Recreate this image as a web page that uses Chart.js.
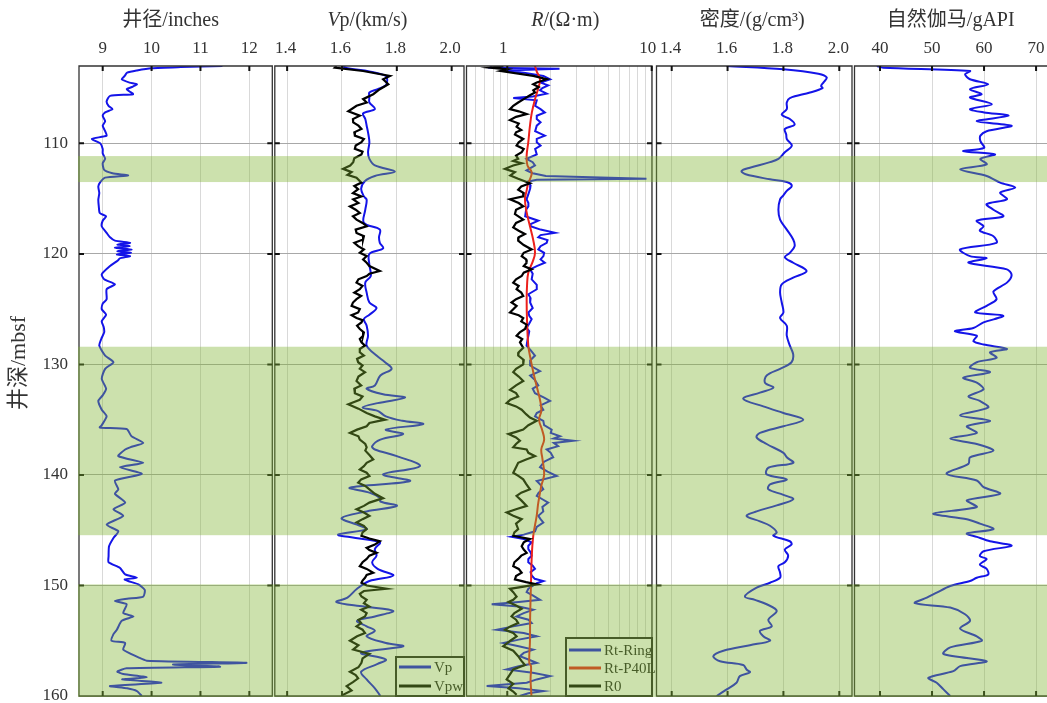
<!DOCTYPE html>
<html>
<head>
<meta charset="utf-8">
<script src="https://cdn.jsdelivr.net/npm/chart.js@4.4.1/dist/chart.umd.min.js"></script>
<style>
  body { margin: 0; background: #fff; }
  #wrap { position: relative; width: 1047px; height: 703px; }
  #wrap canvas { position: absolute; left: 0; top: 0; }
</style>
</head>
<body>
<div id="wrap">
  <canvas id="cal" width="1047" height="703"></canvas>
  <canvas id="vp" width="1047" height="703"></canvas>
  <canvas id="res" width="1047" height="703"></canvas>
  <canvas id="den" width="1047" height="703"></canvas>
  <canvas id="gr" width="1047" height="703"></canvas>
</div>
<script>
// depth ticks (mbsf) and the shaded intervals
const depthTicks = [110, 120, 130, 140, 150, 160];
const bandTop = [111.15, 128.4, 149.9];
const bandBottom = [113.5, 145.45, 160];

// x tick labels of each track
const calTicks = [9, 10, 11, 12];
const vpTicks = [1.4, 1.6, 1.8, 2.0];
const resTicks = [1, 10];
const resGrid = [0.6, 0.7, 0.8, 0.9, 1, 2, 3, 4, 5, 6, 7, 8, 9, 10];
const denTicks = [1.4, 1.6, 1.8, 2.0];
const grTicks = [40, 50, 60, 70];

// caliper (inches)
const calDepth = [
  103.0,103.1,103.2,103.4,103.6,103.9,104.2,104.5,104.65,104.9,
  105.1,105.3,105.55,105.7,106.2,106.6,106.9,107.2,107.5,108.0,
  108.4,108.9,109.3,109.6,110.0,110.5,110.9,111.4,111.8,112.4,
  112.7,112.9,113.1,113.5,113.9,114.5,115.1,115.7,116.3,116.6,
  117.0,117.5,118.1,118.5,118.8,119.0,119.15,119.3,119.45,119.6,
  119.75,119.9,120.05,120.2,120.4,120.6,121.1,121.85,122.3,122.75,
  123.2,124.1,124.5,125.0,125.5,126.1,126.6,127.1,127.7,128.3,
  129.2,129.8,130.4,131.3,132.2,132.8,133.3,134.1,134.7,135.5,
  135.7,135.85,136.5,137.1,137.5,137.7,138.3,138.9,139.3,139.9,
  140.5,141.3,141.7,142.5,143.1,143.7,144.5,145.1,145.7,146.45,
  147.35,147.9,148.4,149.0,149.3,149.45,149.6,149.9,150.4,151.0,
  151.2,151.4,151.7,152.5,152.8,153.2,154.0,154.4,155.0,155.2,
  155.8,156.5,156.8,157.0,157.15,157.35,157.5,157.8,158.0,158.3,
  158.5,158.8,159.1,159.3,159.55,160.0];
const calValue = [
  11.45,10.6,10.0,9.7,9.5,9.45,9.39,9.55,9.70,9.6,
  9.49,9.55,9.62,9.15,9.08,9.12,9.2,9.05,9.0,9.05,
  9.0,9.05,9.08,8.78,8.95,9.0,9.0,9.05,9.0,9.03,
  9.2,9.52,9.05,8.95,8.91,8.93,8.91,8.92,8.94,9.07,
  9.0,8.98,9.08,9.15,9.25,9.56,9.3,9.55,9.25,9.59,
  9.3,9.58,9.29,9.56,9.35,9.31,9.15,8.98,9.03,9.25,
  9.08,9.08,9.0,8.98,9.07,8.98,9.02,9.03,8.97,8.93,
  9.05,9.22,9.05,8.98,9.07,9.0,8.91,8.98,9.08,8.98,
  8.94,9.49,9.59,9.83,9.56,9.46,9.32,9.83,9.35,9.8,
  9.25,9.32,9.25,9.46,9.22,9.42,9.08,9.32,9.22,9.13,
  9.12,9.12,9.35,9.46,9.7,9.45,9.52,9.73,9.86,9.83,
  9.5,9.25,9.49,9.42,9.63,9.39,9.29,9.22,9.18,9.46,
  9.42,9.73,9.9,11.94,10.44,11.4,9.49,9.3,9.42,9.9,
  9.4,10.2,9.15,9.5,9.7,9.8];

// Vp (km/s)
const vpDepth = [
  103.0,103.2,103.5,103.9,104.3,104.75,105.1,105.4,105.8,106.3,
  106.9,107.3,107.8,108.4,109.0,109.9,110.8,111.4,112.0,112.55,
  112.95,113.4,114.1,114.8,115.1,116.0,117.2,117.8,118.5,119.0,
  119.5,120.0,121.0,122.0,122.6,123.5,124.4,124.9,125.5,125.9,
  126.5,127.4,128.3,129.2,129.8,130.4,131.0,131.9,132.2,132.7,
  133.0,133.5,133.9,134.2,134.7,135.1,135.4,135.9,136.3,136.8,
  137.4,137.7,138.3,139.2,139.95,140.55,141.15,141.6,142.1,142.4,
  142.8,143.3,143.9,144.5,144.9,145.4,145.7,146.1,146.7,147.3,
  147.9,148.5,149.1,149.6,150.3,151.1,151.5,151.9,152.3,152.8,
  153.2,153.7,154.1,154.6,155.2,155.5,156.1,156.7,157.1,157.8,
  158.5,159.3,160.0];
const vpValue = [
  1.60,1.62,1.70,1.76,1.765,1.76,1.73,1.70,1.70,1.70,
  1.72,1.677,1.685,1.69,1.695,1.70,1.695,1.70,1.72,1.793,
  1.72,1.684,1.67,1.68,1.69,1.685,1.68,1.738,1.735,1.738,
  1.75,1.70,1.70,1.705,1.685,1.69,1.70,1.726,1.70,1.68,
  1.69,1.695,1.69,1.726,1.757,1.781,1.74,1.72,1.69,1.75,
  1.83,1.73,1.675,1.73,1.76,1.82,1.896,1.76,1.823,1.74,
  1.71,1.72,1.80,1.884,1.75,1.848,1.629,1.70,1.74,1.74,
  1.80,1.69,1.599,1.655,1.69,1.586,1.65,1.738,1.72,1.726,
  1.71,1.73,1.787,1.70,1.655,1.62,1.58,1.68,1.787,1.72,
  1.655,1.69,1.72,1.69,1.76,1.823,1.67,1.76,1.73,1.67,
  1.69,1.72,1.74];

// Vpw (km/s)
const vpwDepth = [
  103.0,103.15,103.45,103.9,104.2,104.65,105.1,105.55,106.0,106.3,
  106.6,107.1,107.5,107.8,108.1,108.4,108.7,109.0,109.3,109.6,
  109.9,110.2,110.5,110.75,111.0,111.35,111.7,112.0,112.3,112.6,
  112.85,113.1,113.55,113.85,114.15,114.5,114.8,115.06,115.4,115.7,
  116.0,116.3,116.6,116.9,117.2,117.5,117.8,118.1,118.4,118.7,
  119.0,119.3,119.6,119.9,120.2,120.5,120.8,121.1,121.55,121.8,
  122.0,122.3,122.6,122.9,123.2,123.5,123.8,124.1,124.4,124.7,
  125.0,125.3,125.55,125.8,126.0,126.2,126.5,126.8,127.1,127.4,
  127.7,128.0,128.3,128.6,128.9,129.2,129.5,129.8,130.1,130.4,
  130.7,131.1,131.5,131.9,132.2,132.6,132.9,133.2,133.6,134.0,
  134.4,134.7,135.0,135.3,135.6,135.9,136.2,136.5,136.8,137.2,
  137.5,137.8,138.2,138.6,138.9,139.2,139.5,139.8,140.1,140.4,
  140.7,141.0,141.3,141.7,142.1,142.5,142.8,143.1,143.4,143.7,
  144.0,144.3,144.6,144.9,145.2,145.5,145.75,146.0,146.3,146.6,
  146.8,147.05,147.3,147.6,147.9,148.25,148.5,148.85,149.05,149.3,
  149.55,149.75,150.0,150.3,150.5,150.75,151.0,151.3,151.6,151.9,
  152.2,152.5,152.8,153.1,153.4,153.7,154.0,154.3,154.6,155.0,
  155.4,155.8,156.2,156.6,157.0,157.4,157.8,158.1,158.4,158.75,
  159.1,159.5,159.9,160.0];
const vpwValue = [
  1.58,1.574,1.677,1.775,1.75,1.769,1.738,1.714,1.677,1.69,
  1.653,1.623,1.665,1.64,1.641,1.66,1.671,1.645,1.647,1.68,
  1.671,1.65,1.647,1.675,1.671,1.645,1.641,1.63,1.604,1.635,
  1.62,1.653,1.671,1.645,1.659,1.64,1.671,1.641,1.66,1.629,
  1.65,1.665,1.64,1.653,1.675,1.69,1.65,1.653,1.68,1.677,
  1.645,1.659,1.68,1.665,1.69,1.677,1.69,1.70,1.738,1.70,
  1.69,1.66,1.653,1.675,1.665,1.645,1.67,1.653,1.64,1.635,
  1.665,1.659,1.635,1.653,1.675,1.671,1.655,1.665,1.68,1.677,
  1.665,1.671,1.684,1.665,1.665,1.68,1.655,1.659,1.675,1.665,
  1.684,1.66,1.653,1.67,1.645,1.647,1.675,1.665,1.623,1.66,
  1.69,1.72,1.757,1.70,1.69,1.655,1.629,1.66,1.665,1.685,
  1.69,1.685,1.70,1.714,1.69,1.68,1.665,1.69,1.70,1.67,
  1.659,1.685,1.70,1.72,1.75,1.70,1.68,1.653,1.68,1.70,
  1.675,1.653,1.68,1.69,1.675,1.671,1.70,1.738,1.72,1.69,
  1.70,1.726,1.70,1.69,1.675,1.665,1.69,1.714,1.69,1.684,
  1.675,1.671,1.69,1.763,1.68,1.665,1.671,1.69,1.68,1.70,
  1.67,1.69,1.684,1.66,1.67,1.653,1.675,1.684,1.655,1.629,
  1.66,1.641,1.70,1.675,1.671,1.66,1.629,1.65,1.659,1.64,
  1.617,1.635,1.604,1.60];

// Rt-Ring (ohm.m)
const ringDepth = [
  103.0,103.15,103.25,103.4,103.6,103.9,104.2,104.5,104.75,105.0,
  105.2,105.5,105.75,105.9,106.1,106.6,106.9,107.2,107.5,107.8,
  108.1,108.4,108.9,109.3,109.6,109.9,110.2,110.5,111.0,111.4,
  111.7,112.0,112.45,112.7,112.95,113.2,113.3,113.45,113.8,114.1,
  114.6,115.06,115.4,115.7,116.0,116.6,117.0,117.3,117.5,117.8,
  118.1,118.3,118.5,118.75,119.0,119.3,119.6,119.9,120.2,120.5,
  120.8,121.1,121.4,121.8,122.3,122.8,123.2,123.65,124.0,124.4,
  124.9,125.3,125.6,125.9,126.3,126.7,127.0,127.4,127.8,128.3,
  128.7,129.2,129.6,130.1,130.6,131.0,131.4,131.9,132.2,132.6,
  133.0,133.3,133.7,134.1,134.4,134.7,135.1,135.5,135.9,136.2,
  136.5,136.7,136.9,137.1,137.4,137.7,138.0,138.4,138.8,139.3,
  139.7,140.1,140.55,140.9,141.3,141.6,141.9,142.2,142.5,142.9,
  143.3,143.7,144.0,144.3,144.7,145.1,145.4,145.6,145.8,146.1,
  146.4,146.7,147.0,147.3,147.6,147.9,148.2,148.5,148.8,149.1,
  149.4,149.6,149.8,150.0,150.3,150.6,150.9,151.3,151.5,151.7,
  151.9,152.2,152.5,152.8,153.1,153.4,153.7,154.0,154.3,154.6,
  154.9,155.2,155.5,155.8,156.1,156.4,156.7,157.0,157.3,157.6,
  157.9,158.2,158.5,158.8,159.1,159.3,159.55,159.75,160.0];
const ringValue = [
  0.78,0.76,2.3,0.95,1.3,1.78,1.98,1.7,1.92,1.75,
  1.685,1.875,1.5,1.1,1.6,1.56,1.7,1.82,1.6,1.6,
  1.7,1.6,1.56,1.82,1.6,1.6,1.7,1.56,1.6,1.36,
  1.5,1.556,1.36,1.5,1.85,9.2,1.6,1.4,1.45,1.44,
  1.4,1.36,1.4,1.4,1.35,1.33,1.64,1.45,1.45,1.7,
  2.14,1.7,1.64,1.9,1.875,1.7,1.64,1.8,1.78,1.7,
  1.82,1.6,1.44,1.5,1.475,1.6,1.6,1.4,1.45,1.44,
  1.5,1.4,1.42,1.475,1.42,1.36,1.42,1.4,1.38,1.36,
  1.45,1.556,1.45,1.44,1.685,1.44,1.55,1.64,1.5,1.556,
  1.8,1.976,1.7,1.776,1.6,1.556,1.776,1.8,2.03,2.0,
  2.32,2.1,2.86,2.1,2.25,1.875,2.0,2.08,1.8,1.685,
  1.9,2.2,1.6,1.7,1.776,1.65,1.6,1.75,1.92,1.75,
  1.776,1.64,1.7,1.776,1.6,1.556,1.3,1.07,1.3,1.475,
  1.4,1.398,1.45,1.475,1.4,1.398,1.5,1.556,1.45,1.475,
  1.55,1.776,1.6,1.514,1.4,1.362,1.5,1.685,1.2,0.78,
  1.2,1.514,1.3,1.16,1.4,1.475,1.1,0.845,1.3,1.6,
  1.2,0.94,1.2,1.514,1.3,1.224,1.4,1.6,1.2,0.99,
  1.5,1.976,1.6,1.362,0.72,1.2,1.776,1.4,1.22];

// Rt-P40L (ohm.m)
const p40Depth = [
  103.0,103.5,104.2,105.0,106.0,107.2,108.4,109.9,111.1,112.0,
  112.6,113.2,113.55,114.3,115.06,116.2,117.5,118.7,119.9,120.7,
  121.7,122.9,124.1,126.0,128.3,129.5,130.7,132.0,133.2,134.2,
  135.0,136.0,136.8,137.7,138.5,139.95,141.0,142.5,143.7,145.5,
  147.6,149.75,152.8,155.0,157.0,157.3,158.5,160.0];
const p40Value = [
  1.556,1.6,1.685,1.64,1.556,1.48,1.436,1.398,1.362,1.38,
  1.475,1.44,1.40,1.36,1.326,1.36,1.436,1.51,1.556,1.5,
  1.398,1.37,1.362,1.37,1.398,1.45,1.514,1.6,1.685,1.72,
  1.66,1.75,1.80,1.72,1.75,1.80,1.72,1.64,1.598,1.514,
  1.475,1.46,1.44,1.436,1.42,1.46,1.45,1.47];

// R0 (ohm.m)
const r0Depth = [
  103.0,103.15,103.3,103.45,103.9,104.2,104.5,104.65,104.9,105.2,
  105.4,105.65,106.0,106.3,106.6,106.9,107.1,107.35,107.6,107.9,
  108.2,108.5,108.8,109.0,109.2,109.6,109.9,110.2,110.5,110.8,
  111.1,111.4,111.6,111.8,112.0,112.3,112.6,112.9,113.2,113.6,
  113.9,114.2,114.5,114.8,115.06,115.4,115.7,116.0,116.4,116.9,
  117.2,117.6,117.9,118.2,118.5,118.8,119.2,119.6,119.9,120.2,
  120.5,120.8,121.1,121.4,121.7,122.0,122.3,122.6,122.9,123.2,
  123.5,123.8,124.1,124.4,124.7,125.0,125.3,125.55,125.8,126.1,
  126.4,126.8,127.1,127.4,127.7,128.0,128.5,128.9,129.2,129.6,
  130.0,130.4,130.7,131.1,131.5,131.9,132.3,132.6,132.9,133.2,
  133.5,133.8,134.1,134.5,134.8,135.1,135.5,135.9,136.1,136.3,
  136.6,136.9,137.2,137.5,137.7,138.0,138.3,138.6,138.9,139.3,
  139.8,140.1,140.4,140.8,141.3,141.6,141.9,142.3,142.8,143.1,
  143.4,143.7,144.0,144.4,144.9,145.2,145.5,145.8,146.1,146.45,
  146.75,147.05,147.3,147.6,147.9,148.25,148.5,148.85,149.15,149.45,
  149.7,149.9,150.1,150.3,150.6,151.0,151.3,151.5,151.8,152.1,
  152.5,152.8,153.1,153.4,153.7,154.0,154.3,154.6,155.0,155.5,
  155.9,156.4,156.8,157.2,157.6,158.0,158.5,158.9,159.3,159.6,
  159.9];
const r0Value = [
  0.94,0.76,1.0,0.9,1.514,1.875,1.6,1.514,1.65,1.514,
  1.556,1.436,1.3,1.19,1.1,1.044,1.2,1.362,1.15,1.044,
  1.2,1.16,1.25,1.15,1.13,1.29,1.2,1.16,1.3,1.258,
  1.15,1.19,1.1,1.258,1.1,0.964,1.13,1.05,1.19,1.436,
  1.25,1.19,1.3,1.29,1.044,1.2,1.29,1.15,1.13,1.29,
  1.15,1.10,1.2,1.326,1.2,1.19,1.3,1.475,1.3,1.258,
  1.35,1.362,1.3,1.475,1.3,1.258,1.15,1.10,1.2,1.16,
  1.25,1.29,1.15,1.07,1.16,1.1,1.044,1.2,1.29,1.25,
  1.362,1.326,1.22,1.16,1.27,1.224,1.29,1.2,1.19,1.3,
  1.29,1.15,1.10,1.2,1.29,1.15,1.044,1.15,1.19,1.05,
  0.99,1.15,1.258,1.35,1.436,1.598,1.4,1.29,1.15,1.02,
  1.15,1.224,1.15,1.10,1.362,1.4,1.556,1.35,1.19,1.15,
  1.10,1.2,1.29,1.35,1.436,1.25,1.16,1.25,1.362,1.15,
  0.99,1.1,1.258,1.15,1.19,1.12,1.10,1.436,1.3,1.258,
  1.3,1.362,1.25,1.19,1.12,1.10,1.2,1.258,1.15,1.13,
  1.35,1.6,1.3,1.044,1.1,1.16,1.1,1.02,1.15,1.258,
  1.12,1.07,1.15,1.19,1.05,0.964,1.1,1.16,1.05,0.938,
  1.1,1.19,1.25,1.326,1.10,1.05,0.99,1.1,1.02,1.1,
  1.16];

// density (g/cm3)
const denDepth = [
  103.0,103.3,103.7,104.05,104.5,104.8,105.0,105.4,105.9,106.3,
  106.9,107.4,107.8,108.3,108.7,109.2,109.6,110.2,110.8,111.4,
  111.7,112.2,112.5,112.8,113.25,113.5,113.85,114.3,114.7,115.06,
  116.0,116.9,117.8,118.7,119.3,119.9,120.3,120.8,121.55,122.15,
  122.75,123.5,124.4,125.3,125.8,126.5,127.4,128.3,129.1,129.8,
  130.4,131.0,131.65,132.1,132.55,133.1,133.8,134.4,135.0,135.6,
  136.2,136.6,137.2,138.0,138.4,138.9,139.35,139.95,140.4,140.85,
  141.3,141.8,142.2,142.75,143.3,143.7,144.2,144.6,145.2,145.5,
  146.0,146.3,146.75,147.3,147.9,148.25,148.85,149.3,149.75,150.2,
  151.0,151.3,151.7,152.3,153.1,153.7,154.1,154.6,155.0,155.4,
  155.9,156.4,156.85,157.2,157.6,157.85,158.2,158.8,159.4,160.0];
const denValue = [
  1.597,1.80,1.925,1.955,1.943,1.935,1.94,1.895,1.823,1.812,
  1.812,1.794,1.823,1.84,1.805,1.81,1.812,1.83,1.805,1.782,
  1.752,1.68,1.65,1.665,1.752,1.812,1.83,1.812,1.80,1.788,
  1.782,1.788,1.812,1.835,1.84,1.823,1.805,1.835,1.883,1.835,
  1.794,1.788,1.794,1.80,1.788,1.812,1.812,1.823,1.835,1.829,
  1.788,1.74,1.734,1.764,1.716,1.656,1.728,1.80,1.871,1.80,
  1.716,1.704,1.74,1.80,1.812,1.835,1.746,1.74,1.812,1.752,
  1.746,1.80,1.835,1.776,1.704,1.668,1.716,1.752,1.776,1.764,
  1.823,1.829,1.805,1.817,1.805,1.782,1.788,1.788,1.752,1.704,
  1.662,1.698,1.74,1.776,1.746,1.758,1.716,1.728,1.752,1.68,
  1.585,1.549,1.573,1.656,1.668,1.68,1.644,1.632,1.597,1.561];

// natural gamma (gAPI)
const grDepth = [
  103.0,103.15,103.45,103.75,104.2,104.65,105.1,105.55,105.85,
  106.45,106.9,107.2,107.5,108.0,108.4,108.9,109.3,109.8,110.4,
  110.7,111.0,111.4,111.9,112.35,112.95,113.55,114.0,114.45,115.06,
  115.5,116.0,116.6,117.0,117.5,117.9,118.4,119.0,119.6,120.2,
  120.4,120.8,121.4,121.9,122.6,123.4,124.1,124.7,125.3,125.6,
  126.2,126.7,127.0,127.4,127.9,128.2,128.6,128.9,129.4,129.8,
  130.3,130.7,131.2,131.65,132.25,132.9,133.3,133.9,134.6,135.1,
  135.6,136.2,136.7,137.2,137.8,138.4,139.0,139.9,140.5,141.1,
  141.7,142.3,142.9,143.5,144.0,144.4,144.9,145.3,145.6,146.0,
  146.4,146.9,147.35,147.6,148.1,148.5,149.0,149.3,149.6,150.05,
  150.65,151.1,151.6,152.0,152.6,153.2,153.9,154.6,155.0,155.6,
  156.2,156.85,157.3,157.75,158.35,158.8,159.4,160.0];
const grValue = [
  39.4,40.6,57.3,56.35,57.3,60.8,57.3,59.55,57.3,
  61.5,57.3,60,64.7,58.6,65.3,60.5,59.3,59.3,60.0,
  56.0,62.1,59.3,60.5,55.4,60.5,63.1,66.0,63.1,64.4,
  60.5,61.8,63.7,58.6,59.9,59.2,61.8,62.4,55.4,57.3,
  60.5,57.0,64.4,65.3,64.4,61.8,62.4,60.5,58.3,63.7,
  59.9,57.95,54.4,58.6,57.95,59.9,64.4,61.15,62.4,58.6,
  57.3,61.15,56.0,58.6,59.9,57.0,59.2,60.8,55.4,61.15,
  56.7,58.6,53.5,58.6,61.8,57.3,57.0,52.8,58.6,59.9,
  63.1,56.7,58.6,50.25,56.7,59.2,61.8,56.7,58.6,61.15,
  65.3,59.9,59.2,60.5,59.2,60.5,60.8,58.6,57.3,53.5,
  50.9,49.0,46.7,53.5,56.35,57.3,55.4,58.6,59.55,53.5,
  52.2,60.5,55.4,54.1,49.3,50.9,52.2,53.5];

const BLUE = 'rgb(20,20,232)';
const RED = 'rgb(236,32,28)';
const BLACK = '#000';
const BAND = 'rgba(128,180,51,0.4)';
const SERIF = "'Liberation Serif', 'Noto Sans CJK SC', serif";
const AREA_TOP = 66, AREA_BOTTOM = 696, PAGE_W = 1047, PAGE_H = 703;

Chart.defaults.font.family = SERIF;
Chart.defaults.font.size = 17;
Chart.defaults.color = '#333';

// one entry per log track
const tracks = [
  { id: 'cal', left: 79, right: 272.3, slot: [78, 273.5], min: 8.515, max: 12.47,
    ticks: calTicks, grid: calTicks, dec: 0, depthAxis: true, shift: 0, titleShift: -5,
    title: [{ t: '井径/inches' }],
    sets: [{ label: '井径', d: calDepth, v: calValue, color: BLUE, tension: 0.2 }] },
  { id: 'vp', left: 274.8, right: 464, slot: [273.5, 465.2], min: 1.355, max: 2.045,
    ticks: vpTicks, grid: vpTicks, dec: 1, shift: -1.5, titleShift: -2,
    title: [{ t: 'V', i: true }, { t: 'p/(km/s)' }],
    legend: { w: 68, h: 39, first: 10, row: 19 },
    sets: [{ label: 'Vp', d: vpDepth, v: vpValue, color: BLUE, tension: 0.35, order: 2 },
           { label: 'Vpw', d: vpwDepth, v: vpwValue, color: BLACK, width: 2.2, order: 1 }] },
  { id: 'res', left: 466.5, right: 652, slot: [465.2, 654.3], min: 0.522, max: 10.05, log: true,
    ticks: resTicks, grid: resGrid, dec: 0, shift: -4, titleShift: 6,
    title: [{ t: 'R', i: true }, { t: '/(Ω·m)' }],
    legend: { w: 86, h: 58, first: 12, row: 18 },
    sets: [{ label: 'Rt-Ring', d: ringDepth, v: ringValue, color: BLUE, order: 3 },
           { label: 'Rt-P40L', d: p40Depth, v: p40Value, color: RED, tension: 0.4, order: 2 },
           { label: 'R0', d: r0Depth, v: r0Value, color: BLACK, width: 2.2, order: 1 }] },
  { id: 'den', left: 656.5, right: 852, slot: [654.3, 853.3], min: 1.3456, max: 2.0455,
    ticks: denTicks, grid: denTicks, dec: 1, shift: -1, titleShift: -2,
    title: [{ t: '密度/(g/cm³)' }],
    sets: [{ label: '密度', d: denDepth, v: denValue, color: BLUE, tension: 0.35 }] },
  { id: 'gr', left: 854.5, right: 1047, slot: [853.3, 1047], min: 35.1, max: 72.1,
    ticks: grTicks, grid: grTicks, dec: 0, openRight: true, shift: 0, titleShift: 0,
    title: [{ t: '自然伽马/gAPI' }],
    sets: [{ label: '自然伽马', d: grDepth, v: grValue, color: BLUE, tension: 0.3 }] }
];

function drawTitle(ctx, segs, cx, cy) {
  const font = s => (s.i ? 'italic ' : '') + '20px ' + SERIF;
  let total = 0;
  const widths = segs.map(s => { ctx.font = font(s); const w = ctx.measureText(s.t).width; total += w; return w; });
  let x = cx - total / 2;
  ctx.textAlign = 'left';
  ctx.textBaseline = 'middle';
  ctx.fillStyle = '#333';
  segs.forEach((s, i) => { ctx.font = font(s); ctx.fillText(s.t, x, cy); x += widths[i]; });
}

// frame, inner ticks, titles, legend and the green intervals
const deco = {
  id: 'deco',
  afterDraw(chart) {
    const tr = tracks.find(t => t.id === chart.canvas.id);
    const ctx = chart.ctx, a = chart.chartArea;
    const xs = chart.scales.x, ys = chart.scales.y;
    ctx.save();

    ctx.strokeStyle = '#333';
    ctx.lineWidth = 1.3;
    ctx.beginPath();
    ctx.moveTo(a.right, a.top);
    ctx.lineTo(a.left, a.top);
    ctx.lineTo(a.left, a.bottom);
    ctx.lineTo(a.right, a.bottom);
    if (!tr.openRight) ctx.closePath();
    ctx.stroke();

    ctx.strokeStyle = '#111';
    ctx.lineWidth = 2;
    ctx.beginPath();
    tr.ticks.forEach(v => {
      const px = xs.getPixelForValue(v);
      ctx.moveTo(px, a.top); ctx.lineTo(px, a.top + 5);
      ctx.moveTo(px, a.bottom); ctx.lineTo(px, a.bottom - 5);
    });
    depthTicks.forEach(d => {
      if (d >= 160) return;
      const py = ys.getPixelForValue(d);
      ctx.moveTo(a.left, py); ctx.lineTo(a.left + 5, py);
      if (!tr.openRight) { ctx.moveTo(a.right, py); ctx.lineTo(a.right - 5, py); }
    });
    ctx.stroke();

    drawTitle(ctx, tr.title, (a.left + a.right) / 2 + tr.titleShift, 21);

    if (tr.depthAxis) {
      ctx.save();
      ctx.translate(19, 363);
      ctx.rotate(-Math.PI / 2);
      ctx.font = '22px ' + SERIF;
      ctx.textAlign = 'center';
      ctx.textBaseline = 'middle';
      ctx.fillStyle = '#333';
      ctx.fillText('井深/mbsf', 0, 0);
      ctx.restore();
    }

    if (tr.legend) {
      const L = tr.legend;
      const bx = a.right - L.w, by = a.bottom - L.h;
      ctx.fillStyle = '#fff';
      ctx.fillRect(bx, by, L.w, L.h);
      ctx.strokeStyle = '#222';
      ctx.lineWidth = 2;
      ctx.strokeRect(bx, by, L.w, L.h);
      ctx.font = '15px ' + SERIF;
      ctx.textAlign = 'left';
      ctx.textBaseline = 'middle';
      chart.data.datasets.forEach((ds, i) => {
        const yy = by + L.first + i * L.row;
        ctx.strokeStyle = ds.borderColor;
        ctx.lineWidth = 3;
        ctx.beginPath(); ctx.moveTo(bx + 3, yy); ctx.lineTo(bx + 35, yy); ctx.stroke();
        ctx.fillStyle = '#222';
        ctx.fillText(ds.label, bx + 38, yy + 1);
      });
    }

    ctx.fillStyle = BAND;
    bandTop.forEach((t, i) => {
      const y1 = ys.getPixelForValue(t);
      let y2 = ys.getPixelForValue(bandBottom[i]);
      if (bandBottom[i] >= 160) y2 += 1;
      ctx.fillRect(tr.slot[0], y1, tr.slot[1] - tr.slot[0], y2 - y1);
    });
    ctx.restore();
  }
};

tracks.forEach(tr => {
  new Chart(document.getElementById(tr.id), {
    type: 'line',
    data: {
      datasets: tr.sets.map(s => ({
        label: s.label,
        data: s.d.map((y, i) => ({ x: s.v[i], y: y })),
        borderColor: s.color,
        backgroundColor: s.color,
        borderWidth: s.width || 2,
        tension: s.tension || 0,
        order: s.order || 0,
        pointRadius: 0,
        fill: false
      }))
    },
    options: {
      indexAxis: 'y',
      responsive: false,
      animation: false,
      events: [],
      devicePixelRatio: 1,
      layout: { padding: { left: tr.depthAxis ? 0 : tr.left, right: PAGE_W - tr.right, top: 0, bottom: PAGE_H - AREA_BOTTOM } },
      plugins: { legend: { display: false }, tooltip: { enabled: false } },
      scales: {
        x: {
          type: tr.log ? 'logarithmic' : 'linear',
          position: 'top',
          min: tr.min,
          max: tr.max,
          afterBuildTicks: s => { s.ticks = tr.grid.map(v => ({ value: v })); },
          afterFit: s => { s.height = AREA_TOP; s.paddingLeft = 0; s.paddingRight = 0; },
          ticks: {
            autoSkip: false, maxRotation: 0, padding: 7, labelOffset: tr.shift,
            callback: v => tr.ticks.includes(v) ? v.toFixed(tr.dec) : ''
          },
          grid: { color: '#d9d9d9', drawTicks: false },
          border: { display: false }
        },
        y: {
          type: 'linear',
          reverse: true,
          min: 103,
          max: 160,
          afterBuildTicks: s => { s.ticks = depthTicks.map(v => ({ value: v })); },
          afterFit: s => { s.width = tr.depthAxis ? tr.left : 0; s.paddingTop = 0; s.paddingBottom = 0; },
          ticks: { display: !!tr.depthAxis, padding: 11, callback: v => String(v) },
          grid: { color: '#a8a8a8', drawTicks: false },
          border: { display: false }
        }
      }
    },
    plugins: [deco]
  });
});
</script>
</body>
</html>
